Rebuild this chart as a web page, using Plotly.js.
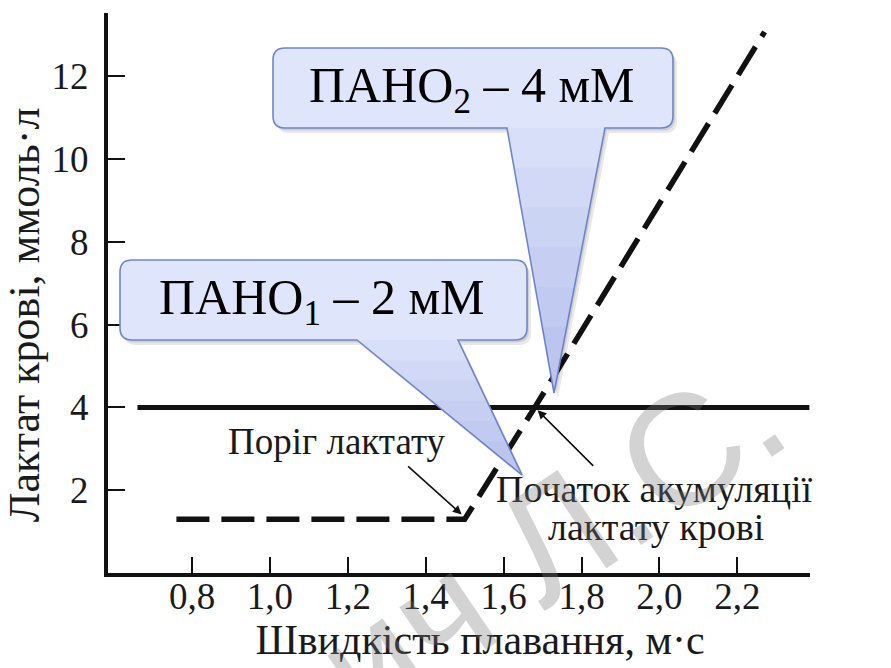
<!DOCTYPE html>
<html>
<head>
<meta charset="utf-8">
<script src="https://cdn.plot.ly/plotly-3.0.1.min.js"></script>
<style>html,body{margin:0;padding:0;background:#fff;}#chart{width:891px;height:668px;}</style>
</head>
<body>
<div id="chart"></div>
<script>
// ---- data ----
const xTickVals = [0.8, 1.0, 1.2, 1.4, 1.6, 1.8, 2.0, 2.2];
const xTickText = ['0,8', '1,0', '1,2', '1,4', '1,6', '1,8', '2,0', '2,2'];
const yTickVals = [2, 4, 6, 8, 10, 12];
const yTickText = ['2', '4', '6', '8', '10', '12'];
const thresholdX = [0.66, 2.385];        // 4 mmol line
const thresholdY = [4, 4];
const lactateX = [0.76, 1.5, 1.68, 2.27]; // blood lactate curve
const lactateY = [1.3, 1.3, 4.0, 13.07];
const labelThreshold = 'Поріг лактату';
const labelOnset1 = 'Початок акумуляції';
const labelOnset2 = 'лактату крові';
const callout1Text = 'ПАНО<sub>1</sub> – 2 мМ';
const callout2Text = 'ПАНО<sub>2</sub> – 4 мМ';
const xTitle = 'Швидкість плавання, м·с';
const yTitle = 'Лактат крові, ммоль·л';
const watermark = 'ич Л.С.';

// ---- geometry ----
const ML = 108, MR = 81, MT = 13, MB = 95, WIDTH = 891, HEIGHT = 668;
const PW = WIDTH - ML - MR, PH = HEIGHT - MT - MB, PB = HEIGHT - MB;
function P(px, py) { return [(px - ML) / PW, (PB - py) / PH]; }
function f(px, py) { const p = P(px, py); return p[0].toFixed(5) + ',' + p[1].toFixed(5); }
function calloutPath(x0, y0, x1, y1, r, b0, b1, tx, ty, dx, dy) {
  dx = dx || 0; dy = dy || 0;
  x0 += dx; x1 += dx; b0 += dx; b1 += dx; tx += dx; y0 += dy; y1 += dy; ty += dy;
  return `M${f(x0 + r, y0)} L${f(x1 - r, y0)} Q${f(x1, y0)} ${f(x1, y0 + r)} L${f(x1, y1 - r)} Q${f(x1, y1)} ${f(x1 - r, y1)} L${f(b1, y1)} L${f(tx, ty)} L${f(b0, y1)} L${f(x0 + r, y1)} Q${f(x0, y1)} ${f(x0, y1 - r)} L${f(x0, y0 + r)} Q${f(x0, y0)} ${f(x0 + r, y0)} Z`;
}
function tipShades(y1, b0, b1, tx, ty) {
  const out = [];
  [1.0, 0.85, 0.7, 0.55, 0.4, 0.25].forEach(t => {
    const ax = tx + t * (b0 - tx), bx = tx + t * (b1 - tx), yy = ty + t * (y1 - ty);
    out.push({type: 'path', xref: 'paper', yref: 'paper', layer: 'above',
      path: `M${f(tx, ty)} L${f(ax + 1, yy)} L${f(bx - 1, yy)} Z`,
      fillcolor: 'rgba(110,135,225,0.055)', line: {width: 0}});
  });
  return out;
}
const C1 = {x0: 120, y0: 260, x1: 527, y1: 340, b0: 357, b1: 458, tx: 522, ty: 475};
const C2 = {x0: 273, y0: 48, x1: 673, y1: 128, b0: 507, b1: 605, tx: 554, ty: 393};

const shapes = [];
[C2, C1].forEach(c => {
  shapes.push({type: 'path', xref: 'paper', yref: 'paper', layer: 'above',
    path: calloutPath(c.x0, c.y0, c.x1, c.y1, 12, c.b0, c.b1, c.tx, c.ty, 4, 5),
    fillcolor: 'rgba(0,0,0,0.09)', line: {width: 0}});
  shapes.push({type: 'path', xref: 'paper', yref: 'paper', layer: 'above',
    path: calloutPath(c.x0, c.y0, c.x1, c.y1, 12, c.b0, c.b1, c.tx, c.ty, 2, 2.5),
    fillcolor: 'rgba(0,0,0,0.10)', line: {width: 0}});
  shapes.push({type: 'path', xref: 'paper', yref: 'paper', layer: 'above',
    path: calloutPath(c.x0, c.y0, c.x1, c.y1, 12, c.b0, c.b1, c.tx, c.ty),
    fillcolor: '#dfe5fa', line: {color: '#6f86c9', width: 1.6}});
  tipShades(c.y1, c.b0, c.b1, c.tx, c.ty).forEach(s => shapes.push(s));
});

const serif = "'Liberation Serif', 'Times New Roman', serif";
function ann(px, py, text, size, extra) {
  const p = P(px, py);
  return Object.assign({xref: 'paper', yref: 'paper', x: p[0], y: p[1], text: text,
    showarrow: false, xanchor: 'center', yanchor: 'middle',
    font: {family: serif, size: size, color: '#1a1a1a'}}, extra || {});
}

const annotations = [
  ann(337, 441, labelThreshold, 37),
  ann(654, 489, labelOnset1, 38),
  ann(656, 527, labelOnset2, 38),
  {x: lactateX[1], y: lactateY[1] + 0.05, xref: 'x', yref: 'y', text: '', showarrow: true,
   ax: -58, ay: -52, arrowhead: 2, arrowsize: 1.1, arrowwidth: 1.6, arrowcolor: '#111', standoff: 4},
  {x: lactateX[2], y: lactateY[2], xref: 'x', yref: 'y', text: '', showarrow: true,
   ax: 60, ay: 60, arrowhead: 2, arrowsize: 1.1, arrowwidth: 1.6, arrowcolor: '#111', standoff: 4},
  ann(322, 301, callout1Text, 50, {font: {family: serif, size: 50, color: '#000'}}),
  ann(472, 89, callout2Text, 50, {font: {family: serif, size: 50, color: '#000'}}),
  ann(550, 540, watermark, 158, {textangle: -34,
    font: {family: "'Liberation Sans', Arial, sans-serif", size: 158, color: 'rgba(120,120,120,0.33)'}})
];

const traces = [
  {x: thresholdX, y: thresholdY, type: 'scatter', mode: 'lines',
   line: {color: '#111', width: 5}, hoverinfo: 'skip', showlegend: false},
  {x: lactateX, y: lactateY, type: 'scatter', mode: 'lines',
   line: {color: '#111', width: 5.5, dash: '33px,12px'}, hoverinfo: 'skip', showlegend: false}
];

const ZW = '\u200b';
const xr0 = 0.8 - (192 - ML) / 389.5, xr1 = 0.8 + (WIDTH - MR - 192) / 389.5;
const layout = {
  width: WIDTH, height: HEIGHT,
  margin: {l: ML, r: MR, t: MT, b: MB, pad: 0},
  paper_bgcolor: '#fff', plot_bgcolor: '#fff',
  showlegend: false,
  xaxis: {range: [xr0, xr1], showline: true, linewidth: 4, linecolor: '#111',
    ticks: 'inside', ticklen: 16, tickwidth: 2, tickcolor: '#111',
    tickvals: xTickVals, ticktext: xTickText, showgrid: false, zeroline: false,
    tickfont: {family: serif, size: 37, color: '#1a1a1a'}, ticklabelstandoff: -12,
    title: {text: ZW + '\u00a0\u00a0\u00a0\u00a0' + xTitle, font: {family: serif, size: 42, color: '#1a1a1a'}, standoff: 4},
    fixedrange: true, automargin: false},
  yaxis: {range: [0, PH / 41.4], showline: true, linewidth: 4, linecolor: '#111',
    ticks: 'inside', ticklen: 17, tickwidth: 2, tickcolor: '#111',
    tickvals: yTickVals, ticktext: yTickText, showgrid: false, zeroline: false,
    tickfont: {family: serif, size: 37, color: '#1a1a1a'}, ticklabelstandoff: 8,
    title: {text: yTitle + '\u00a0\u00a0\u00a0\u00a0' + ZW, font: {family: serif, size: 44, color: '#1a1a1a'}, standoff: 12},
    fixedrange: true, automargin: false},
  shapes: shapes,
  annotations: annotations
};

Plotly.newPlot('chart', traces, layout, {displayModeBar: false, staticPlot: true});
</script>
</body>
</html>
